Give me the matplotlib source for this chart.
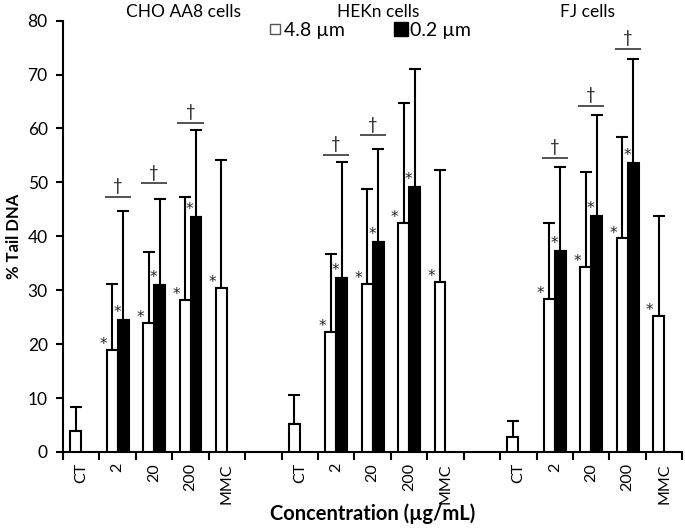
import matplotlib
matplotlib.use("Agg")
import matplotlib.pyplot as plt
from matplotlib.lines import Line2D
import numpy as np

plt.rcParams["font.family"] = ["Lato", "DejaVu Sans"]

cell_lines = ["CHO AA8 cells", "HEKn cells", "FJ cells"]
doses = ["CT", "2", "20", "200", "MMC"]

# 4.8 um particles (white bars), mean and upper SD
cho_large = [3.8, 18.9, 24.0, 28.2, 30.4]
cho_large_sd = [4.5, 12.3, 13.0, 19.1, 23.7]
hekn_large = [5.1, 22.3, 31.1, 42.4, 31.6]
hekn_large_sd = [5.5, 14.4, 17.7, 22.3, 20.7]
fj_large = [2.8, 28.3, 34.3, 39.6, 25.2]
fj_large_sd = [3.0, 14.1, 17.6, 18.9, 18.6]

# 0.2 um particles (black bars), only 2 / 20 / 200
cho_small = [24.4, 30.9, 43.6]
cho_small_sd = [20.3, 16.0, 16.1]
hekn_small = [32.2, 39.0, 49.1]
hekn_small_sd = [21.6, 17.1, 21.9]
fj_small = [37.3, 43.8, 53.5]
fj_small_sd = [15.6, 18.7, 19.4]

# dagger brackets (0.2 vs 4.8 um), height per dose 2 / 20 / 200
cho_dagger = [47.3, 49.8, 61.0]
hekn_dagger = [55.1, 58.7, None]
fj_dagger = [54.6, 64.2, 74.8]

large = [cho_large, hekn_large, fj_large]
large_sd = [cho_large_sd, hekn_large_sd, fj_large_sd]
small = [cho_small, hekn_small, fj_small]
small_sd = [cho_small_sd, hekn_small_sd, fj_small_sd]
daggers = [cho_dagger, hekn_dagger, fj_dagger]
title_x = [2.8, 8.15, 13.9]

fig = plt.figure(figsize=(6.85, 5.28), dpi=100)
ax = fig.add_axes([0.092, 0.144, 0.904, 0.817])

w = 0.3
tick_pos = []
tick_lab = []

for g in range(3):
    start = g * 6
    x = np.arange(5) + start
    tick_pos += list(x)
    tick_lab += doses

    # white bars
    xl = x - w / 2
    ax.bar(xl, large[g], width=w, color="white", edgecolor="black",
           linewidth=1.5, zorder=3)
    ax.errorbar(xl, large[g], yerr=[np.zeros(5), large_sd[g]], fmt="none",
                ecolor="black", elinewidth=1.5, capsize=4, capthick=1.5,
                zorder=2)

    # black bars
    xs = x[1:4] + w / 2
    ax.bar(xs, small[g], width=w, color="black", edgecolor="black",
           linewidth=1.5, zorder=3)
    ax.errorbar(xs, small[g], yerr=[np.zeros(3), small_sd[g]], fmt="none",
                ecolor="black", elinewidth=1.5, capsize=4, capthick=1.5,
                zorder=2)

    # asterisks
    for i in range(1, 5):
        ax.text(xl[i] - w / 2 - 0.09, large[g][i] + 1.0, "*", ha="center",
                va="center", fontsize=11, family="DejaVu Sans",
                color="#222222")
    for i in range(3):
        ax.text(xs[i] - w / 2 - 0.02, small[g][i] + 1.4, "*", ha="center",
                va="center", fontsize=11, family="DejaVu Sans",
                color="#222222")

    # daggers
    for i, h in enumerate(daggers[g]):
        if h is None:
            continue
        c = x[i + 1]
        ax.plot([c - 0.36, c + 0.36], [h, h], color="#444444", lw=1.3,
                solid_capstyle="butt", zorder=4)
        ax.text(c, h + 0.5, "†", ha="center", va="bottom", fontsize=12,
                color="#222222")

    ax.text(title_x[g], 81.6, cell_lines[g], ha="center", va="center",
            fontsize=12.5, clip_on=False)

ax.set_xlim(-0.5, 16.5)
ax.set_ylim(0, 80)
ax.set_yticks(range(0, 81, 10))
ax.tick_params(axis="y", labelsize=12.5, direction="out", length=5,
               width=1.5, pad=6)

ax.set_xticks(np.arange(-0.5, 17, 1))
ax.set_xticklabels([])
ax.set_xticks(tick_pos, minor=True)
ax.set_xticklabels(tick_lab, minor=True, rotation=90, fontsize=11.5)
ax.tick_params(axis="x", which="major", direction="out", length=6, width=1.5)
ax.tick_params(axis="x", which="minor", length=0, pad=8)

for s in ["top", "right"]:
    ax.spines[s].set_visible(False)
for s in ["left", "bottom"]:
    ax.spines[s].set_linewidth(1.5)

ax.set_ylabel("% Tail DNA", fontsize=12, fontweight="bold")
ax.set_xlabel("Concentration (µg/mL)", fontsize=14.5, fontweight="bold",
              labelpad=0)

handles = [
    Line2D([], [], marker="s", ls="", markersize=7, markerfacecolor="white",
           markeredgecolor="#555555", markeredgewidth=1),
    Line2D([], [], marker="s", ls="", markersize=10, markerfacecolor="black",
           markeredgecolor="black"),
]
fig.legend(handles, ["4.8 µm", "0.2 µm"], loc="center",
           bbox_to_anchor=(0.538, 0.943), ncol=2, frameon=False,
           fontsize=14, handletextpad=0.05, columnspacing=2.4,
           handlelength=0.9)

fig.savefig("out.png", dpi=100)
